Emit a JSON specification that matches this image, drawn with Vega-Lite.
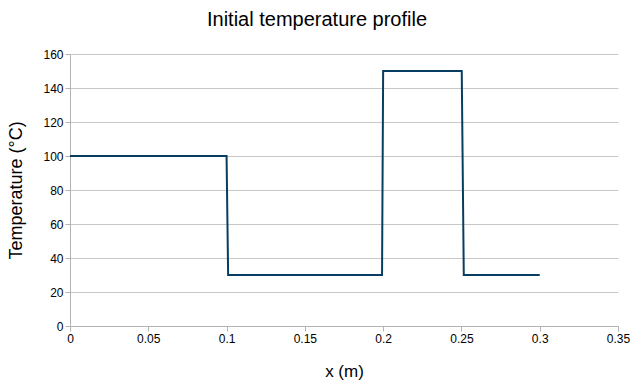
{
  "$schema": "https://vega.github.io/schema/vega-lite/v6.json",
  "width": 548,
  "height": 272,
  "autosize": {"type": "none"},
  "padding": {"left": 70, "top": 54, "right": 22, "bottom": 64},
  "background": "white",
  "title": {
    "text": "Initial temperature profile",
    "font": "Liberation Sans",
    "fontSize": 20,
    "fontWeight": "normal",
    "color": "#000000",
    "anchor": "middle",
    "dx": -27,
    "offset": 18
  },
  "data": {
    "values": [
      {"x": 0, "t": 100},
      {"x": 0.1, "t": 100},
      {"x": 0.101, "t": 30},
      {"x": 0.1993, "t": 30},
      {"x": 0.2, "t": 150},
      {"x": 0.2502, "t": 150},
      {"x": 0.2515, "t": 30},
      {"x": 0.3, "t": 30}
    ]
  },
  "mark": {"type": "line", "color": "#083d62", "strokeWidth": 2},
  "encoding": {
    "x": {
      "field": "x",
      "type": "quantitative",
      "scale": {"domain": [0, 0.35], "nice": false},
      "axis": {
        "title": "x (m)",
        "values": [0, 0.05, 0.1, 0.15, 0.2, 0.25, 0.3, 0.35],
        "format": "~g",
        "grid": false,
        "titleFontSize": 17,
        "titlePadding": 19
      }
    },
    "y": {
      "field": "t",
      "type": "quantitative",
      "scale": {"domain": [0, 160], "nice": false},
      "axis": {
        "title": "Temperature (°C)",
        "values": [0, 20, 40, 60, 80, 100, 120, 140, 160],
        "grid": true,
        "titleFontSize": 18,
        "titlePadding": 17
      }
    }
  },
  "config": {
    "view": {"stroke": null},
    "axis": {
      "labelFont": "Liberation Sans",
      "titleFont": "Liberation Sans",
      "labelFontSize": 12,
      "labelColor": "#000000",
      "titleColor": "#000000",
      "titleFontWeight": "normal",
      "domainColor": "#b3b3b3",
      "tickColor": "#b3b3b3",
      "gridColor": "#c8c8c8",
      "gridOpacity": 1,
      "tickSize": 5,
      "labelPadding": 2,
      "labelFlush": false
    }
  }
}
